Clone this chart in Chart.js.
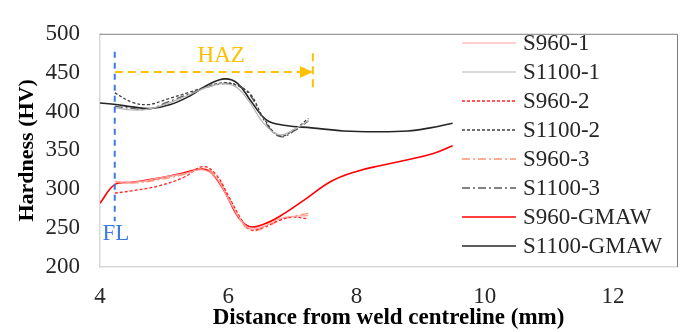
<!DOCTYPE html>
<html>
<head>
<meta charset="utf-8">
<script src="https://cdn.jsdelivr.net/npm/chart.js@4.4.1/dist/chart.umd.min.js"></script>
<style>
  html, body { margin: 0; padding: 0; background: #fff; }
  #wrap { width: 683px; height: 332px; }
</style>
</head>
<body>
<div id="wrap"><canvas id="hardness"></canvas></div>
<script>
// tick labels
const xTicks = [4, 6, 8, 10, 12];
const yTicks = [200, 250, 300, 350, 400, 450, 500];

// S1100 series
const s1100GmawX = [4.0, 4.25, 4.5, 4.8, 5.1, 5.4, 5.7, 5.95, 6.15, 6.35, 6.6, 6.9, 7.3, 7.8, 8.3, 8.8, 9.15, 9.5];
const s1100GmawY = [411, 409, 406, 404, 409, 420, 435, 442, 436, 414, 389, 382, 379, 375, 374, 375, 379, 385];
const s1100TestX = [4.23, 4.5, 4.75, 5.05, 5.4, 5.7, 5.95, 6.15, 6.35, 6.55, 6.8, 7.05, 7.25];
const s1100_1 = [405, 402, 403, 410, 422, 432, 436, 430, 410, 385, 370, 378, 388];
const s1100_2 = [424, 412, 409, 416, 425, 433, 437, 433, 422, 392, 369, 378, 391];
const s1100_3 = [407, 404, 403, 412, 423, 432, 436, 434, 420, 390, 368, 376, 388];

// S960 series
const s960GmawX = [4.0, 4.23, 4.5, 4.9, 5.3, 5.6, 5.75, 5.95, 6.15, 6.33, 6.55, 6.8, 7.2, 7.6, 8.0, 8.4, 8.8, 9.2, 9.5];
const s960GmawY = [282, 306, 309, 314, 321, 326, 320, 296, 265, 252, 255, 265, 287, 310, 323, 331, 338, 346, 356];
const s960TestX = [4.23, 4.5, 4.9, 5.3, 5.6, 5.8, 6.0, 6.2, 6.35, 6.55, 6.8, 7.0, 7.25];
const s960_1 = [310, 309, 314, 320, 325, 316, 288, 260, 249, 252, 262, 265, 266];
const s960_2 = [295, 298, 304, 315, 329, 320, 292, 262, 248, 251, 260, 264, 262];
const s960_3 = [310, 308, 312, 319, 327, 318, 290, 259, 247, 250, 260, 265, 269];

// markers on the plot (fusion line and HAZ extent)
const flX = 4.23;
const flRange = [259, 477];
const hazEndX = 7.32;
const hazArrowY = 451;
const hazTickRange = [430, 475];

const pts = (xs, ys) => xs.map((x, i) => ({ x: x, y: ys[i] }));

function line(label, xs, ys, color, width, dash) {
    return {
        label: label,
        data: pts(xs, ys),
        borderColor: color,
        backgroundColor: color,
        borderWidth: width,
        borderDash: dash,
        pointRadius: 0,
        tension: 0.4,
        fill: false
    };
}

const serif = '"Liberation Serif", "Times New Roman", serif';

const extras = {
    id: 'extras',
    afterDraw(chart) {
        const ctx = chart.ctx;
        const xs = chart.scales.x, ys = chart.scales.y;
        const a = chart.chartArea;
        ctx.save();

        // outer frame (top + right)
        ctx.strokeStyle = '#7f7f7f';
        ctx.lineWidth = 1;
        ctx.beginPath();
        ctx.moveTo(a.left, a.top + 0.5);
        ctx.lineTo(a.right + 0.5, a.top + 0.5);
        ctx.lineTo(a.right + 0.5, a.bottom);
        ctx.stroke();

        // FL line
        ctx.strokeStyle = '#3d7be0';
        ctx.lineWidth = 2;
        ctx.setLineDash([6, 5]);
        ctx.beginPath();
        ctx.moveTo(xs.getPixelForValue(flX), ys.getPixelForValue(flRange[1]));
        ctx.lineTo(xs.getPixelForValue(flX), ys.getPixelForValue(flRange[0]));
        ctx.stroke();
        ctx.setLineDash([]);
        ctx.fillStyle = '#3d7be0';
        ctx.font = '23px ' + serif;
        ctx.textAlign = 'left';
        ctx.textBaseline = 'middle';
        ctx.fillText('FL', xs.getPixelForValue(4.04), ys.getPixelForValue(242));

        // HAZ arrow
        const hx0 = xs.getPixelForValue(flX), hx1 = xs.getPixelForValue(hazEndX);
        const hy = ys.getPixelForValue(hazArrowY);
        ctx.strokeStyle = '#ffc000';
        ctx.fillStyle = '#ffc000';
        ctx.lineWidth = 2;
        ctx.setLineDash([8, 5]);
        ctx.beginPath();
        ctx.moveTo(hx0, hy);
        ctx.lineTo(hx1 - 10, hy);
        ctx.stroke();
        ctx.beginPath();
        ctx.moveTo(hx1, ys.getPixelForValue(hazTickRange[1]));
        ctx.lineTo(hx1, ys.getPixelForValue(hazTickRange[0]));
        ctx.stroke();
        ctx.setLineDash([]);
        ctx.beginPath();
        ctx.moveTo(hx1, hy);
        ctx.lineTo(hx1 - 13, hy - 6);
        ctx.lineTo(hx1 - 13, hy + 6);
        ctx.closePath();
        ctx.fill();
        ctx.textAlign = 'center';
        ctx.fillText('HAZ', xs.getPixelForValue(5.89), ys.getPixelForValue(471));

        // legend inside plot
        const lx0 = 462, lx1 = 516, tx = 523, y0 = 43, step = 29;
        ctx.font = '23px ' + serif;
        ctx.textAlign = 'left';
        chart.data.datasets.forEach((ds, i) => {
            const y = y0 + i * step;
            ctx.strokeStyle = ds.borderColor;
            ctx.lineWidth = ds.borderWidth;
            ctx.setLineDash(ds.borderDash || []);
            ctx.beginPath();
            ctx.moveTo(lx0, y);
            ctx.lineTo(lx1, y);
            ctx.stroke();
            ctx.setLineDash([]);
            ctx.fillStyle = '#262626';
            ctx.fillText(ds.label, tx, y + 1);
        });
        ctx.restore();
    }
};

new Chart(document.getElementById('hardness'), {
    type: 'line',
    data: {
        datasets: [
            line('S960-1', s960TestX, s960_1, '#ff9f9f', 1.2, []),
            line('S1100-1', s1100TestX, s1100_1, '#b4b4b4', 1.2, []),
            line('S960-2', s960TestX, s960_2, '#ff2020', 1.3, [3, 2]),
            line('S1100-2', s1100TestX, s1100_2, '#404040', 1.3, [3, 2]),
            line('S960-3', s960TestX, s960_3, '#ff9470', 1.3, [8, 3, 2, 3]),
            line('S1100-3', s1100TestX, s1100_3, '#595959', 1.3, [8, 3, 2, 3]),
            line('S960-GMAW', s960GmawX, s960GmawY, '#ff0000', 1.6, []),
            line('S1100-GMAW', s1100GmawX, s1100GmawY, '#262626', 1.6, [])
        ]
    },
    options: {
        responsive: true,
        maintainAspectRatio: false,
        animation: false,
        layout: { padding: { top: 19, right: 6, left: 0, bottom: 0 } },
        plugins: {
            legend: { display: false },
            tooltip: { enabled: false }
        },
        scales: {
            x: {
                type: 'linear',
                min: 4,
                max: 13,
                afterBuildTicks: s => { s.ticks = xTicks.map(v => ({ value: v })); },
                afterFit: s => { s.height = 65; },
                grid: { display: false, drawTicks: false },
                border: { display: true, color: '#d9d9d9', width: 1.5 },
                ticks: { padding: 16, color: '#262626', font: { family: serif, size: 23 } },
                title: {
                    display: true,
                    text: 'Distance from weld centreline (mm)',
                    color: '#000',
                    padding: { top: 0, bottom: 0 },
                    font: { family: serif, size: 23, weight: 'bold' }
                }
            },
            y: {
                min: 200,
                max: 500,
                afterBuildTicks: s => { s.ticks = yTicks.map(v => ({ value: v })); },
                afterFit: s => { s.width = 100; },
                grid: { display: false, drawTicks: false },
                border: { display: true, color: '#d9d9d9', width: 1.5 },
                ticks: { padding: 20, color: '#262626', font: { family: serif, size: 23 } },
                title: {
                    display: true,
                    text: 'Hardness (HV)',
                    color: '#000',
                    padding: { top: 14, bottom: 0 },
                    font: { family: serif, size: 22, weight: 'bold' }
                }
            }
        }
    },
    plugins: [extras]
});
</script>
</body>
</html>
